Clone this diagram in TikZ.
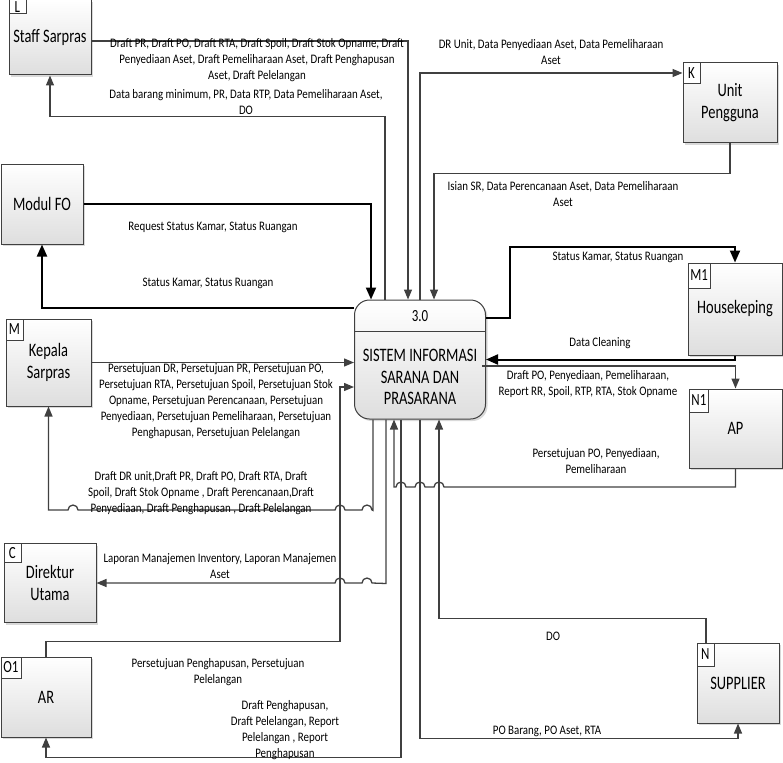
\documentclass[tikz,border=0pt]{standalone}
\usepackage{fontspec}
\setmainfont[FakeStretch=0.76]{Carlito}
\newfontfamily\lblfont[FakeStretch=0.84]{Carlito}
\usepackage{tikz}
\usetikzlibrary{arrows.meta}
\usetikzlibrary{shadows}
\usetikzlibrary{calc}

\begin{document}
\begin{tikzpicture}[x=1pt, y=-1pt,
				every text node part/.style={align=center},
				entity/.style={rectangle, draw=linegray, line width=1pt, top color=white, bottom color=boxgray, inner sep=0pt, font=\fontsize{19}{22}\selectfont, drop shadow={shadow xshift=2pt, shadow yshift=-2pt, fill=black, opacity=0.15}},
				tag/.style={rectangle, draw=linegray, line width=0.8pt, fill=white, anchor=north west, inner xsep=2.5pt, inner ysep=0pt, minimum height=21pt, minimum width=17pt, font=\fontsize{17}{19}\selectfont},
				lbl/.style={inner sep=0pt, font=\lblfont\fontsize{13}{16}\selectfont},
				flow/.style={draw=linegray, line width=1.3pt, -{Triangle[length=10pt,width=8pt]}},
				bold/.style={draw=black, line width=2pt, -{Triangle[length=12pt,width=10pt]}}]

					\definecolor{linegray}{RGB}{64,64,64}
					\definecolor{boxgray}{RGB}{222,222,222}

					\useasboundingbox (0,0) rectangle (783,762);

					% external entities
					\node[entity, minimum width=82pt, minimum height=75pt] (staff) at (50,37.5) {Staff Sarpras};
					\node[entity, minimum width=94pt, minimum height=80pt] (unit) at (730,103) {Unit\\ Pengguna};
					\node[entity, minimum width=82pt, minimum height=80pt] (fo) at (42,204) {Modul FO};
					\node[entity, minimum width=85pt, minimum height=87pt] (kepala) at (48.5,362.5) {Kepala\\ Sarpras};
					\node[entity, minimum width=94pt, minimum height=92pt] (hk) at (735,309) {Housekeping};
					\node[entity, minimum width=93pt, minimum height=79pt] (ap) at (735.5,428.5) {AP};
					\node[entity, minimum width=92pt, minimum height=79pt] (dirut) at (50,583) {Direktur\\ Utama};
					\node[entity, minimum width=90pt, minimum height=80pt] (ar) at (46,697) {AR};
					\node[entity, minimum width=82pt, minimum height=80pt] (supp) at (738,683) {SUPPLIER};

					\node[tag, minimum height=14pt] (stafftag) at (staff.north west) {L};
					\node[tag] (unittag) at (unit.north west) {K};
					\node[tag] (kepalatag) at (kepala.north west) {M};
					\node[tag, minimum height=25pt] (hktag) at (hk.north west) {M1};
					\node[tag, minimum height=23pt] (aptag) at (ap.north west) {N1};
					\node[tag, minimum height=19pt] (diruttag) at (dirut.north west) {C};
					\node[tag] (artag) at (ar.north west) {O1};
					\node[tag, minimum height=23pt] (supptag) at (supp.north west) {N};

					% process
					\node[entity, rounded corners=15pt, minimum width=131pt, minimum height=119pt] (proc) at (420,359.5) {};
					\draw[linegray, line width=1pt] (proc.west |- 0,331) -- (proc.east |- 0,331);
					\node[font=\fontsize{17}{20}\selectfont] (procno) at (420,316) {3.0};
					\node[font=\fontsize{19}{21.5}\selectfont] (procname) at (420,377) {SISTEM INFORMASI\\ SARANA DAN\\ PRASARANA};

					% Staff Sarpras
					\draw[flow] ([yshift=-3.5pt]staff.east) -| ([xshift=-12pt]proc.north);
					\draw[flow] ([xshift=-35pt]proc.north) -- ++(0,-183) -| (staff.south);
					\node[lbl] (staffout) at (257,60.5) {Draft PR, Draft PO, Draft RTA, Draft Spoil, Draft Stok Opname, Draft\\ Penyediaan Aset, Draft Pemeliharaan Aset, Draft Penghapusan\\ Aset, Draft Pelelangan};
					\node[lbl] (staffin) at (246,102) {Data barang minimum, PR, Data RTP, Data Pemeliharaan Aset,\\ DO};

					% Unit Pengguna
					\draw[flow] (proc.north) |- ([yshift=30pt]unit.west);
					\draw[flow] (unit.south) -- ++(0,30) -| ([xshift=14pt]proc.north);
					\node[lbl] (unitin) at (551,52) {DR Unit, Data Penyediaan Aset, Data Pemeliharaan\\ Aset};
					\node[lbl] (unitout) at (563,194.5) {Isian SR, Data Perencanaan Aset, Data Pemeliharaan\\ Aset};

					% Modul FO
					\draw[bold] (fo.east) -| ([xshift=-49pt]proc.north);
					\draw[bold] ([yshift=-8pt]proc.north west) -| (fo.south);
					\node[lbl] (foout) at (213,227) {Request Status Kamar, Status Ruangan};
					\node[lbl] (foin) at (208,283) {Status Kamar, Status Ruangan};

					% Housekeping
					\draw[bold] ([yshift=41.5pt]proc.east) -- ++(24,0) -- ++(0,-71) -| (hk.north);
					\draw[bold] (hk.south) |- (proc.east);
					\node[lbl] (hkin) at (618,257) {Status Kamar, Status Ruangan};
					\node[lbl] (hkout) at (600,343) {Data Cleaning};

					% AP
					\draw[flow] ([xshift=-4pt,yshift=-6.5pt]proc.east) -| (ap.north);
					\draw[flow] (ap.south) -- ++(0,18.5) -- (444,487) arc[start angle=0, end angle=-180, radius=5] -- (425,487) arc[start angle=0, end angle=-180, radius=5] -- (406,487) arc[start angle=0, end angle=-180, radius=5] -| ([xshift=-26pt]proc.south);
					\node[lbl] (apin) at (588,384) {Draft PO, Penyediaan, Pemeliharaan,\\ Report RR, Spoil, RTP, RTA, Stok Opname};
					\node[lbl] (apout) at (596,461) {Persetujuan PO, Penyediaan,\\ Pemeliharaan};

					% Kepala Sarpras
					\draw[flow] (kepala.east) -- (kepala.east -| proc.west);
					\draw[flow] ([xshift=-47pt]proc.south) -- ++(0,91) -- (372,510) arc[start angle=0, end angle=-180, radius=5] -- (345,510) arc[start angle=0, end angle=-180, radius=5] -- (78,510) arc[start angle=0, end angle=-180, radius=5] -| (kepala.south);
					\node[lbl] (kepalaout) at (216,401.5) {Persetujuan DR, Persetujuan PR, Persetujuan PO,\\ Persetujuan RTA, Persetujuan Spoil, Persetujuan Stok\\ Opname, Persetujuan Perencanaan, Persetujuan\\ Penyediaan, Persetujuan Pemeliharaan, Persetujuan\\ Penghapusan, Persetujuan Pelelangan};
					\node[lbl] (kepalain) at (201,493) {Draft DR unit,Draft PR, Draft PO, Draft RTA, Draft\\ Spoil, Draft Stok Opname , Draft Perencanaan,Draft\\ Penyediaan, Draft Penghapusan , Draft Pelelangan};

					% Direktur Utama
					\draw[flow] ([xshift=-34pt]proc.south) -- ++(0,164) -- (372,583) arc[start angle=0, end angle=-180, radius=5] -- (345,583) arc[start angle=0, end angle=-180, radius=5] -- (dirut.east);
					\node[lbl] (dirutin) at (220,566) {Laporan Manajemen Inventory, Laporan Manajemen\\ Aset};

					% AR
					\draw[flow] (ar.north) -- ++(0,-15) -| ([xshift=-14pt,yshift=-27.5pt]proc.west) -- ([yshift=-27.5pt]proc.west);
					\draw[flow] ([xshift=-19pt]proc.south) -- ++(0,338) -| (ar.south);
					\node[lbl] (arout) at (218,672) {Persetujuan Penghapusan, Persetujuan\\ Pelelangan};
					\node[lbl] (arin) at (285,730.5) {Draft Penghapusan,\\ Draft Pelelangan, Report\\ Pelelangan , Report\\ Penghapusan};

					% Supplier
					\draw[flow] ([xshift=-32pt]supp.north) -- ++(0,-24) -| ([xshift=19pt]proc.south);
					\draw[flow] (proc.south) -- ++(0,319) -| (supp.south);
					\node[lbl] (suppout) at (553,636) {DO};
					\node[lbl] (suppin) at (547,731) {PO Barang, PO Aset, RTA};
				\end{tikzpicture}
\end{document}
